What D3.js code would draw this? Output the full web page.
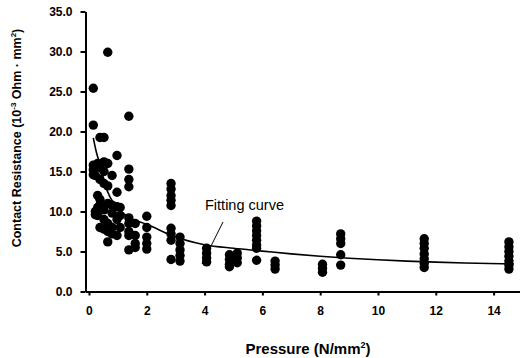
<!DOCTYPE html>
<html>
<head>
<meta charset="utf-8">
<script src="https://cdn.jsdelivr.net/npm/d3@7"></script>
<style>
  body { margin: 0; background: #fff; }
  svg { display: block; font-family: "Liberation Sans", Arial, sans-serif; }
  .tick text { font-weight: bold; font-size: 12px; fill: #000; }
  .domain, .tick line { stroke: #000; stroke-width: 2px; }
</style>
</head>
<body>
<svg width="520" height="358"></svg>
<script>
const width = 520, height = 358;

// measurements, grouped by pressure column (N/mm^2) -> resistances
const pressures = [0.15, 0.22, 0.3, 0.38, 0.52, 0.65, 0.8, 0.97, 1.08, 1.38, 1.6, 2.0, 2.84, 3.15, 4.07, 4.86, 5.13, 5.8, 6.44, 8.08, 8.71, 11.6, 14.53];
const resistances = [
    [25.4, 20.8, 15.8, 15.2, 14.6],
    [14.5, 10.0, 9.6],
    [15.6, 16.0, 12.0, 10.5, 9.5],
    [19.25, 15.5, 14.0, 11.5, 10.8, 8.0],
    [19.25, 16.2, 15.0, 13.5, 10.2, 9.0, 7.8],
    [29.9, 16.0, 13.2, 11.0, 8.5, 7.5, 6.2],
    [14.5, 10.8, 9.8, 8.0, 7.2],
    [17.0, 12.4, 10.6, 9.0, 7.0],
    [10.5, 9.5, 8.0],
    [21.9, 15.3, 14.0, 13.1, 9.2, 8.5, 7.5, 7.0, 5.2],
    [8.5, 7.0, 6.0, 5.5],
    [9.4, 8.0, 6.8, 6.0, 5.3],
    [13.5, 12.8, 12.0, 11.4, 10.75, 7.9, 7.2, 6.4, 4.0],
    [6.8, 6.0, 5.2, 4.5, 3.8],
    [5.4, 4.8, 4.2, 3.7],
    [4.6, 4.0, 3.4, 3.1],
    [4.8, 4.2, 3.6],
    [8.8, 8.2, 7.6, 7.0, 6.4, 5.8, 5.4, 3.9],
    [3.8, 3.3, 2.8],
    [3.4, 2.9, 2.4],
    [7.2, 6.6, 6.0, 4.6, 3.3],
    [6.6, 6.0, 5.4, 4.7, 4.1, 3.5, 3.0],
    [6.2, 5.6, 5.0, 4.4, 3.8, 3.3, 2.8]
];

// fitting curve
const fitX = [0.15, 0.25, 0.38, 0.55, 0.73, 1.0, 1.42, 2.0, 3.0, 4.0, 5.0, 6.0, 7.0, 8.0, 9.0, 10.0, 11.0, 12.0, 13.0, 14.7];
const fitY = [19.2, 17.5, 15.9, 13.4, 11.8, 10.4, 9.2, 8.4, 6.8, 5.85, 5.4, 5.05, 4.7, 4.4, 4.15, 3.96, 3.8, 3.67, 3.57, 3.45];

const xTicks = [0, 2, 4, 6, 8, 10, 12, 14];
const yTicks = [0, 5, 10, 15, 20, 25, 30, 35];

const svg = d3.select("svg");

const x = d3.scaleLinear().domain([-0.12, 15]).range([85.5, 522.5]);
const y = d3.scaleLinear().domain([0, 35]).range([291.5, 11.5]);

// axes
svg.append("g")
    .attr("transform", `translate(0,${y(0)})`)
    .call(d3.axisBottom(x).tickValues(xTicks).tickSize(4).tickPadding(12).tickSizeOuter(0))
    .call(g => g.selectAll(".tick text").attr("dy", "0.6em"));

svg.append("g")
    .attr("transform", `translate(${x(-0.12)},0)`)
    .call(d3.axisLeft(y).tickValues(yTicks).tickFormat(d3.format(".1f")).tickSize(5).tickPadding(8).tickSizeOuter(0));

// points
const points = [];
pressures.forEach((p, i) => resistances[i].forEach(r => points.push({p, r})));

svg.append("g").selectAll("circle")
    .data(points)
    .enter().append("circle")
    .attr("cx", d => x(d.p))
    .attr("cy", d => y(d.r))
    .attr("r", 4.7)
    .attr("fill", "#000");

// fitting curve
const fitData = fitX.map((v, i) => [v, fitY[i]]);
svg.append("path")
    .datum(fitData)
    .attr("fill", "none")
    .attr("stroke", "#000")
    .attr("stroke-width", 1.6)
    .attr("d", d3.line().x(d => x(d[0])).y(d => y(d[1])).curve(d3.curveMonotoneX));

// annotation + leader line
svg.append("line")
    .attr("x1", 223).attr("y1", 222)
    .attr("x2", 202).attr("y2", 264)
    .attr("stroke", "#000").attr("stroke-width", 1);

svg.append("text")
    .attr("x", 205).attr("y", 210)
    .attr("font-size", 14.5)
    .text("Fitting curve");

// axis titles
const xt = svg.append("text")
    .attr("x", 308).attr("y", 354)
    .attr("text-anchor", "middle")
    .attr("font-size", 15).attr("font-weight", "bold");
xt.append("tspan").text("Pressure (N/mm");
xt.append("tspan").attr("dy", -6).attr("font-size", 9).text("2");
xt.append("tspan").attr("dy", 6).text(")");

const yt = svg.append("text")
    .attr("transform", "translate(21,138) rotate(-90)")
    .attr("text-anchor", "middle")
    .attr("font-size", 12.5).attr("font-weight", "bold");
yt.append("tspan").text("Contact Resistance (10");
yt.append("tspan").attr("dy", -5).attr("font-size", 8).text("-3");
yt.append("tspan").attr("dy", 5).text(" Ohm \u00b7 mm");
yt.append("tspan").attr("dy", -5).attr("font-size", 8).text("2");
yt.append("tspan").attr("dy", 5).text(")");
</script>
</body>
</html>
